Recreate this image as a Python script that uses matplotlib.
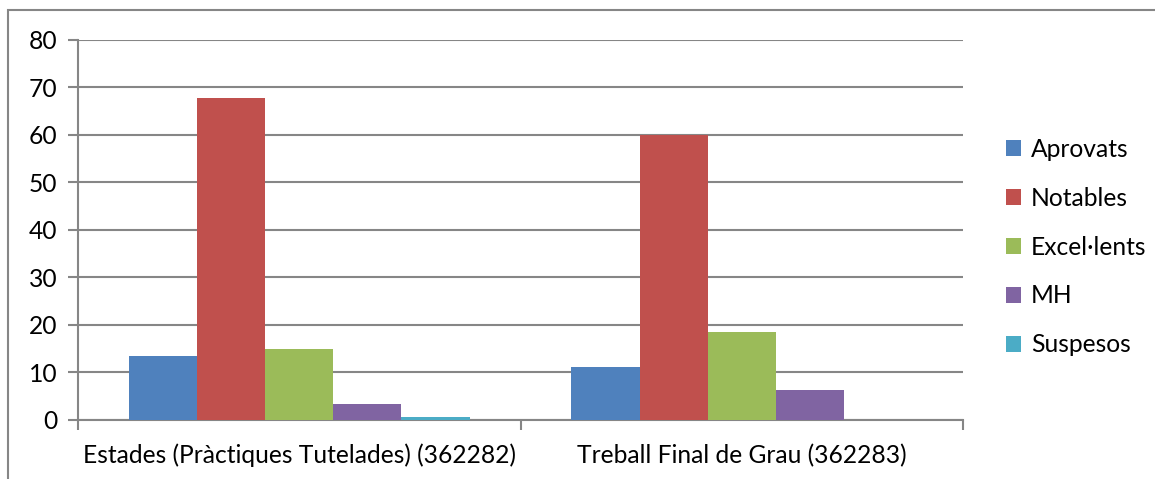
import matplotlib.pyplot as plt
import numpy as np
from matplotlib.patches import Rectangle

plt.rcParams['font.family'] = ['Lato', 'DejaVu Sans']

categories = ["Estades (Pràctiques Tutelades) (362282)", "Treball Final de Grau (362283)"]
series_names = ["Aprovats", "Notables", "Excel·lents", "MH", "Suspesos"]
aprovats = [13.4, 11.2]
notables = [67.8, 60.0]
excellents = [14.9, 18.5]
mh = [3.4, 6.3]
suspesos = [0.6, 0.0]
colors = ["#4F81BD", "#C0504D", "#9BBB59", "#8064A2", "#4BACC6"]
y_ticks = [0, 10, 20, 30, 40, 50, 60, 70, 80]

grey = "#868686"
fs = 17.7

fig = plt.figure(figsize=(11.55, 4.79), dpi=100)
ax = fig.add_axes([0.0675, 0.1232, 0.7663, 0.7933])

# outer chart frame (only left and top visible in the reference)
fig.patches.append(Rectangle((8 / 1155, -0.1), 1.2, 1 - 10 / 479 + 0.1,
                             transform=fig.transFigure, fill=False,
                             edgecolor=grey, linewidth=1.5))

x = np.arange(len(categories))
width = 0.154
values = [aprovats, notables, excellents, mh, suspesos]
for i, (name, vals) in enumerate(zip(series_names, values)):
    ax.bar(x + (i - 2) * width, vals, width, color=colors[i], label=name, zorder=3)

ax.set_xlim(-0.5, len(categories) - 0.5)
ax.set_ylim(0, 80)
ax.set_yticks(y_ticks)
ax.set_yticklabels([str(t) for t in y_ticks], fontsize=fs)
ax.yaxis.grid(True, color=grey, linewidth=1.5, zorder=0)

ax.set_xticks(x)
ax.set_xticklabels(categories, fontsize=fs)
ax.tick_params(axis='x', length=0, pad=17)
ax.set_xticks([-0.5, 0.5, 1.5], minor=True)
ax.tick_params(axis='x', which='minor', length=7, width=1.5, color=grey)
ax.tick_params(axis='y', length=7, width=1.5, color=grey, pad=8)

for side in ['top', 'right']:
    ax.spines[side].set_visible(False)
for side in ['left', 'bottom']:
    ax.spines[side].set_color(grey)
    ax.spines[side].set_linewidth(1.5)

leg = ax.legend(loc='center left', bbox_to_anchor=(1.037, 0.455), frameon=False,
                fontsize=fs, handlelength=0.62, handleheight=0.62,
                handletextpad=0.4, labelspacing=1.05, borderaxespad=0)

fig.savefig("out.png", dpi=100)
